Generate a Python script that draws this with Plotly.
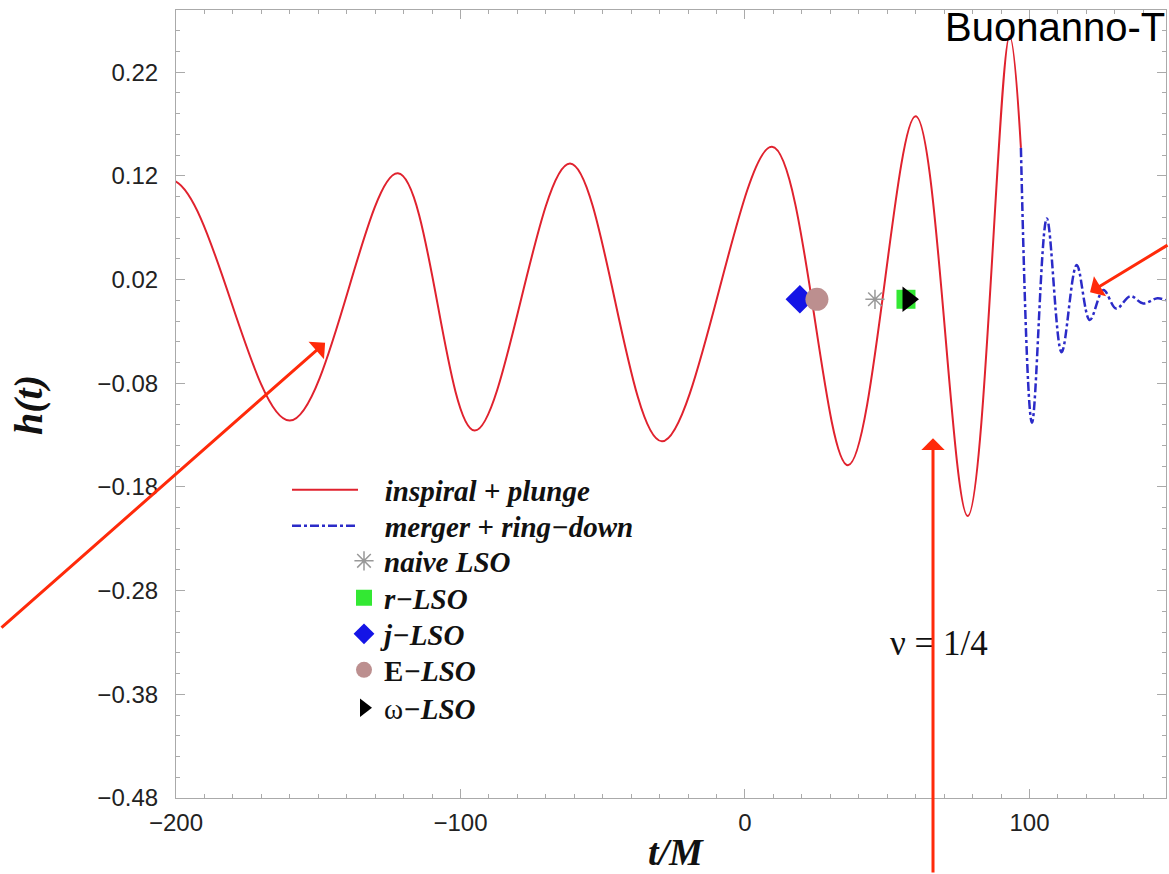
import plotly.graph_objects as go

# ---------------- data ----------------
# extrema of the inspiral + plunge waveform (t/M, h); the first trough lies just left of the
# cropped axis (estimated) so the curve enters the frame near its first peak, as in the picture
insp_t = [-244, -202, -160, -122, -95, -61.5, -29.2, 9.5, 36.2, 60, 78.3, 93, 97]
insp_h = [-0.112, 0.116, -0.116, 0.1225, -0.1256, 0.132, -0.136, 0.148, -0.159, 0.1775, -0.208, 0.255, 0.147]

# extrema of the merger + ring-down waveform
merge_t = [97, 100.9, 106.1, 111.3, 116.6, 121.2, 126, 130.5, 135.5, 140, 145, 148]
merge_h = [0.147, -0.118, 0.079, -0.050, 0.034, -0.019, 0.010, -0.008, 0.004, -0.003, 0.002, 0.0]

lso_names = ["naive LSO", "r-LSO", "j-LSO", "E-LSO", "ω-LSO"]
lso_t = [45.7, 56.6, 19.3, 25.3, 57.3]
lso_h = [0.001, 0.001, 0.001, 0.001, 0.001]

x_range = [-200, 148]
y_range = [-0.48, 0.28]
x_tick0, x_dtick, x_minor = -200, 100, 10
y_tick0, y_dtick, y_minor = -0.48, 0.1, 0.02

nu_label = "ν = 1/4"
nu_pos = (68.2, -0.331)
corner_title = "Buonanno-T"

# arrow tips (data coords)
arrow_tips = [(-147.6, -0.041), (121.3, 0.0078), (66.1, -0.133)]

# ---------------- styles ----------------
W, H = 1169, 874
ML, MR, MT, MB = 176, 3, 10, 76
PW, PH = W - ML - MR, H - MT - MB
serif = "Liberation Serif, Times New Roman, serif"
sans = "Liberation Sans, Arial, Helvetica, sans-serif"
NB = "\u00a0"


def px_x(p):
    return (p - ML) / PW


def px_y(p):
    return 1 - (p - MT) / PH


lso_style = {
    "naive LSO": dict(symbol="asterisk-open", size=16, color="#999999", line=dict(color="#999999", width=1.5),
                      label="<b><i>naive LSO</i></b>", row=561),
    "r-LSO": dict(symbol="square", size=19, color="#33e833", line=dict(width=0),
                  label="<b><i>r−LSO</i></b>", row=598),
    "j-LSO": dict(symbol="diamond", size=22, color="#1414e6", line=dict(width=0),
                  label="<b><i>j−LSO</i></b>", row=634),
    "E-LSO": dict(symbol="circle", size=23, color="#bc8f8f", line=dict(width=0),
                  label="<b>E</b><b><i>−LSO</i></b>", row=670),
    "ω-LSO": dict(symbol="triangle-right", size=22, color="#000000", line=dict(width=0),
                  label="ω<b><i>−LSO</i></b>", row=708),
}
draw_order = ["j-LSO", "E-LSO", "naive LSO", "r-LSO", "ω-LSO"]

legend_font = dict(family=serif, size=29, color="#111111")
legends = {}

fig = go.Figure()

fig.add_trace(go.Scatter(
    x=insp_t, y=insp_h, mode="lines", line=dict(color="#e0222e", width=2, shape="spline", smoothing=1),
    name=NB * 3 + "<b><i>inspiral + plunge</i></b>", legend="legend"))
legends["legend"] = dict(x=px_x(287), y=px_y(490), xanchor="left", yanchor="middle",
                         bgcolor="rgba(0,0,0,0)", itemwidth=66, font=legend_font)

fig.add_trace(go.Scatter(
    x=merge_t, y=merge_h, mode="lines",
    line=dict(color="#2b2bc8", width=2.5, dash="dashdot", shape="spline", smoothing=1),
    name=NB * 3 + "<b><i>merger + ring−down</i></b>", legend="legend2"))
legends["legend2"] = dict(x=px_x(287), y=px_y(526), xanchor="left", yanchor="middle",
                          bgcolor="rgba(0,0,0,0)", itemwidth=66, font=legend_font)

for k, nm in enumerate(draw_order):
    i = lso_names.index(nm)
    s = lso_style[nm]
    lg = "legend%d" % (k + 3)
    fig.add_trace(go.Scatter(
        x=[lso_t[i]], y=[lso_h[i]], mode="markers",
        marker=dict(symbol=s["symbol"], size=s["size"], color=s["color"], line=s["line"]),
        name=s["label"], legend=lg))
    legends[lg] = dict(x=px_x(344), y=px_y(s["row"]), xanchor="left", yanchor="middle",
                       bgcolor="rgba(0,0,0,0)", itemwidth=30, font=legend_font)

axis_common = dict(
    showgrid=False, zeroline=False, showline=True, linecolor="#aaaaaa", linewidth=1.2,
    mirror="ticks", ticks="inside", ticklen=9, tickcolor="#aaaaaa", tickwidth=1,
    tickfont=dict(family=sans, size=24, color="#222222"),
)

fig.update_layout(
    width=W, height=H, autosize=False,
    margin=dict(l=ML, r=MR, t=MT, b=MB),
    paper_bgcolor="white", plot_bgcolor="white",
    xaxis=dict(range=x_range, tick0=x_tick0, dtick=x_dtick, ticklabelstandoff=3,
               minor=dict(dtick=x_minor, ticks="inside", ticklen=4, tickcolor="#aaaaaa"),
               **axis_common),
    yaxis=dict(range=y_range, tick0=y_tick0, dtick=y_dtick, tickformat=".2f", ticklabelstandoff=12,
               minor=dict(dtick=y_minor, ticks="inside", ticklen=4, tickcolor="#aaaaaa"),
               **axis_common),
    showlegend=True,
    **legends,
)

ann = []
# axis titles
ann.append(dict(text="<b><i>t/M</i></b>", xref="paper", yref="paper",
                x=px_x(676), y=px_y(852), xanchor="center", yanchor="middle", showarrow=False,
                font=dict(family=serif, size=38, color="#111111")))
ann.append(dict(text="<b><i>h(t)</i></b>", xref="paper", yref="paper",
                x=px_x(28), y=px_y(405), xanchor="center", yanchor="middle", textangle=-90, showarrow=False,
                font=dict(family=serif, size=40, color="#111111")))
ann.append(dict(text=nu_label, x=nu_pos[0], y=nu_pos[1], xref="x", yref="y", showarrow=False,
                xanchor="center", yanchor="middle", font=dict(family=serif, size=35, color="#111111")))
ann.append(dict(text=corner_title, xref="paper", yref="paper",
                x=px_x(943), y=px_y(27), xanchor="left", yanchor="middle", showarrow=False,
                font=dict(family=sans, size=40, color="#000000")))
# red overlay arrows
arrow_offsets = [(-345, 286), (110, -48), (0, 460)]
for (tx, ty), (ax, ay) in zip(arrow_tips, arrow_offsets):
    ann.append(dict(text="", x=tx, y=ty, xref="x", yref="y", ax=ax, ay=ay, axref="pixel", ayref="pixel",
                    showarrow=True, arrowhead=1, arrowsize=1.3, arrowwidth=3, arrowcolor="#ff2a0a"))
fig.update_layout(annotations=ann)

fig.write_html("out.html")
